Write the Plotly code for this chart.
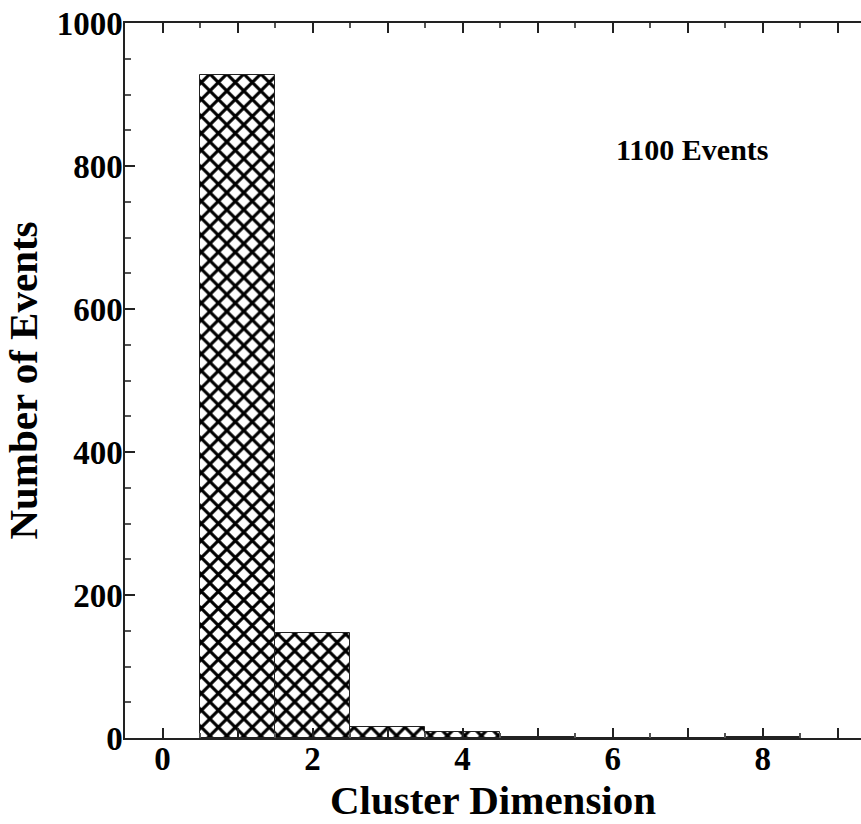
import plotly.graph_objects as go

# Data
cluster_dim = [1, 2, 3, 4, 5, 6, 7, 8]
counts = [927, 147, 16, 8, 1, 0, 0, 1]
x_tickvals = [0, 1, 2, 3, 4, 5, 6, 7, 8, 9]
x_ticktext = ["0", "", "2", "", "4", "", "6", "", "8", ""]
y_tickvals = [0, 200, 400, 600, 800, 1000]
y_ticktext = ["0", "200", "400", "600", "800", "1000"]

FONT = "Liberation Serif"

fig = go.Figure()
fig.add_trace(go.Bar(
    x=cluster_dim,
    y=counts,
    width=1.0,
    marker=dict(
        color="white",
        line=dict(color="#222222", width=1),
        pattern=dict(shape="x", fgcolor="black", fgopacity=1, bgcolor="white", size=12, solidity=0.45),
    ),
    showlegend=False,
))

fig.add_annotation(
    x=7.07, y=823, xref="x", yref="y",
    text="1100 Events", showarrow=False,
    font=dict(family=FONT, size=30, color="black", weight="bold"),
)

fig.update_xaxes(
    range=[-0.5, 9.31],
    tickmode="array", tickvals=x_tickvals, ticktext=x_ticktext,
    ticks="inside", ticklen=10, tickwidth=1.5, tickcolor="#222222",
    minor=dict(dtick=0.5, tick0=0, ticks="inside", ticklen=5, tickwidth=1.5, tickcolor="#555555"),
    showline=True, linecolor="#222222", linewidth=1.5, mirror="ticks",
    showgrid=False, zeroline=False,
    ticklabelstandoff=-9,
    tickfont=dict(family=FONT, size=33, color="black", weight="bold"),
    title=dict(text="Cluster Dimension", font=dict(family=FONT, size=41, color="black", weight="bold"), standoff=6),
)

fig.update_yaxes(
    range=[0, 1000],
    tickmode="array", tickvals=y_tickvals, ticktext=y_ticktext,
    ticks="inside", ticklen=10, tickwidth=1.5, tickcolor="#222222",
    minor=dict(dtick=50, tick0=0, ticks="inside", ticklen=6, tickwidth=1.5, tickcolor="#555555"),
    showline=True, linecolor="#222222", linewidth=1.5,
    showgrid=False, zeroline=False,
    ticklabelstandoff=-6,
    tickfont=dict(family=FONT, size=33, color="black", weight="bold"),
    title=dict(text="Number of Events", font=dict(family=FONT, size=41, color="black", weight="bold"), standoff=14),
)

fig.update_layout(
    width=861, height=824,
    margin=dict(l=125, r=0, t=23, b=86),
    plot_bgcolor="white", paper_bgcolor="white",
    bargap=0,
)

fig.write_html("out.html")
